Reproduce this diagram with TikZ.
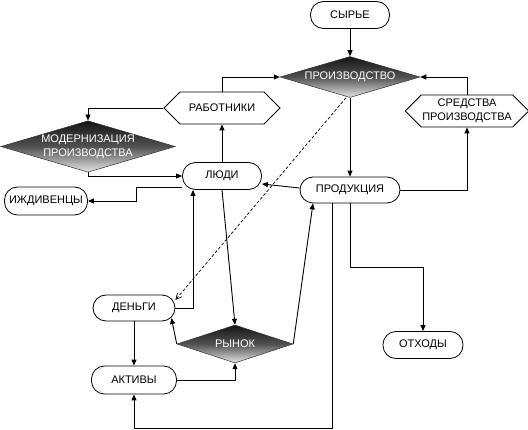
\documentclass[tikz,border=0pt]{standalone}
\usepackage{fontspec}
\setmainfont{Liberation Sans}
\usetikzlibrary{shapes.geometric,shapes.symbols,arrows.meta}
\begin{document}
\begin{tikzpicture}[x=1pt,y=-1pt, font=\fontsize{11}{14}\selectfont,
  term/.style={draw, rectangle, rounded corners=13pt, minimum height=27pt, inner sep=2pt, line width=0.8pt},
  dec/.style={diamond, draw=black!80, line width=0.5pt, top color=black!92, bottom color=black!10, middle color=black!68, text=white, inner sep=0pt, align=center},
  hexa/.style={signal, signal to=west and east, draw, line width=0.8pt, inner sep=1pt, minimum height=32pt, align=center},
  arr/.style={line width=0.9pt, -{Triangle[length=6pt,width=5pt]}},
  dasharr/.style={line width=0.7pt, dash pattern=on 3pt off 2pt, -{Straight Barb[length=6pt,width=6pt]}}]
\useasboundingbox (0,0) rectangle (528,430);

\node[term, minimum width=79pt] (syr) at (350,15) {СЫРЬЕ};
\node[dec, minimum width=140pt, minimum height=41pt, aspect=3.4] (proizv) at (350,77) {ПРОИЗВОДСТВО};
\node[hexa, minimum width=116pt] (rab) at (222,108) {РАБОТНИКИ};
\node[hexa, minimum width=119pt] (sred) at (467,111) {СРЕДСТВА\\ПРОИЗВОДСТВА};
\node[dec, minimum width=173pt, minimum height=51pt, aspect=3.39] (modern) at (88,146.5) {МОДЕРНИЗАЦИЯ\\ПРОИЗВОДСТВА};
\node[term, minimum width=79pt] (lyudi) at (222,176) {ЛЮДИ};
\node[term, minimum width=100pt, minimum height=26pt] (prod) at (350,190) {ПРОДУКЦИЯ};
\node[term, minimum width=83pt, minimum height=28pt] (izhd) at (46,201) {ИЖДИВЕНЦЫ};
\node[term, minimum width=82pt, minimum height=26pt] (dengi) at (134,308) {ДЕНЬГИ};
\node[term, minimum width=85pt, minimum height=28pt] (aktiv) at (134,380) {АКТИВЫ};
\node[dec, minimum width=116pt, minimum height=38pt, aspect=3.05] (rynok) at (235,344) {РЫНОК};
\node[term, minimum width=80pt] (othody) at (423,345) {ОТХОДЫ};

\draw[arr] (syr) -- (proizv);
\draw[arr] (rab.north) |- (proizv.west);
\draw[arr] (sred.north) |- (proizv.east);
\draw[arr] (proizv) -- (prod);
\draw[arr] (prod.east) -| (sred.south);
\draw[arr] (rab.west) -| (modern.north);
\draw[arr] (modern.south) |- (lyudi.west);
\draw[arr] (lyudi) -- (rab);
\draw[arr] ([yshift=-11pt]lyudi.west) -- ++(-46,0) |- (izhd.east);
\draw[arr] ([yshift=2pt]prod.west) -- ([yshift=-8pt]lyudi.east);
\draw[arr] (dengi.east) -| ([xshift=-29pt]lyudi.south);
\draw[arr] (lyudi.south) -- (rynok.north);
\draw[arr] (rynok.east) -- ([xshift=-37pt]prod.south);
\draw[arr] (rynok.west) -- ([xshift=-4pt,yshift=-10pt]dengi.east);
\draw[arr] (dengi) -- (aktiv);
\draw[arr] (aktiv.east) -| (rynok.south);
\draw[arr] ([xshift=-18pt]prod.south) -- ++(0,225) -| (aktiv.south);
\draw[arr] (prod.south) -- ++(0,64) -| (othody.north);
\draw[dasharr] ([xshift=-4pt]proizv.south) -- ([yshift=8pt]dengi.east);
\end{tikzpicture}
\end{document}
